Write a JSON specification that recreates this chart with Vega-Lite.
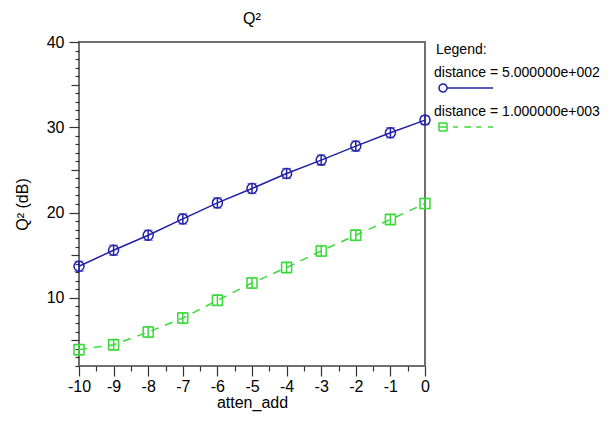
{
  "$schema": "https://vega.github.io/schema/vega-lite/v6.json",
  "autosize": "none",
  "width": 346,
  "height": 324,
  "padding": {"left": 79, "top": 42, "right": 185, "bottom": 55},
  "background": "white",
  "config": {
    "font": "Liberation Sans",
    "view": {"stroke": "#707070", "strokeWidth": 2},
    "axis": {"grid": false, "domain": false, "labelFont": "Liberation Sans", "titleFont": "Liberation Sans", "labelFontSize": 16, "titleFontSize": 16, "titleFontWeight": "normal", "labelColor": "black", "titleColor": "black", "tickColor": "#333333", "tickWidth": 1.2}
  },
  "title": {"text": "Q²", "fontSize": 16, "fontWeight": "normal", "font": "Liberation Sans", "color": "black", "offset": 7, "anchor": "middle"},
  "data": {
    "values": [
      {"atten": -10, "q": 13.7, "err": 0.6, "series": "distance = 5.000000e+002"},
      {"atten": -9, "q": 15.58, "err": 0.6, "series": "distance = 5.000000e+002"},
      {"atten": -8, "q": 17.34, "err": 0.6, "series": "distance = 5.000000e+002"},
      {"atten": -7, "q": 19.25, "err": 0.6, "series": "distance = 5.000000e+002"},
      {"atten": -6, "q": 21.13, "err": 0.6, "series": "distance = 5.000000e+002"},
      {"atten": -5, "q": 22.82, "err": 0.6, "series": "distance = 5.000000e+002"},
      {"atten": -4, "q": 24.58, "err": 0.6, "series": "distance = 5.000000e+002"},
      {"atten": -3, "q": 26.15, "err": 0.6, "series": "distance = 5.000000e+002"},
      {"atten": -2, "q": 27.79, "err": 0.6, "series": "distance = 5.000000e+002"},
      {"atten": -1, "q": 29.35, "err": 0.6, "series": "distance = 5.000000e+002"},
      {"atten": 0, "q": 30.84, "err": 0.5, "series": "distance = 5.000000e+002"},
      {"atten": -10, "q": 3.92, "err": 0.65, "series": "distance = 1.000000e+003"},
      {"atten": -9, "q": 4.5, "err": 0.65, "series": "distance = 1.000000e+003"},
      {"atten": -8, "q": 5.98, "err": 0.65, "series": "distance = 1.000000e+003"},
      {"atten": -7, "q": 7.62, "err": 0.65, "series": "distance = 1.000000e+003"},
      {"atten": -6, "q": 9.7, "err": 0.65, "series": "distance = 1.000000e+003"},
      {"atten": -5, "q": 11.74, "err": 0.65, "series": "distance = 1.000000e+003"},
      {"atten": -4, "q": 13.55, "err": 0.65, "series": "distance = 1.000000e+003"},
      {"atten": -3, "q": 15.5, "err": 0.65, "series": "distance = 1.000000e+003"},
      {"atten": -2, "q": 17.34, "err": 0.65, "series": "distance = 1.000000e+003"},
      {"atten": -1, "q": 19.18, "err": 0.65, "series": "distance = 1.000000e+003"},
      {"atten": 0, "q": 21.06, "err": 0.6, "series": "distance = 1.000000e+003"}
    ]
  },
  "encoding": {
    "x": {
      "field": "atten", "type": "quantitative", "title": "atten_add",
      "scale": {"domain": [-10, 0], "nice": false, "zero": false},
      "axis": {
        "values": [-10, -9.5, -9, -8.5, -8, -7.5, -7, -6.5, -6, -5.5, -5, -4.5, -4, -3.5, -3, -2.5, -2, -1.5, -1, -0.5, 0],
        "labelExpr": "datum.value % 1 == 0 ? '' + datum.value : ''",
        "tickSize": {"condition": {"test": "datum.value % 1 == 0", "value": 10}, "value": 5},
        "labelPadding": 2, "titlePadding": 0, "labelFlush": false, "labelOverlap": false
      }
    },
    "y": {
      "field": "q", "type": "quantitative", "title": "Q² (dB)",
      "scale": {"domain": [2, 40], "nice": false, "zero": false},
      "axis": {
        "values": [2,3,4,5,6,7,8,9,10,11,12,13,14,15,16,17,18,19,20,21,22,23,24,25,26,27,28,29,30,31,32,33,34,35,36,37,38,39,40],
        "labelExpr": "datum.value % 10 == 0 ? datum.label : ''",
        "tickSize": {"condition": [{"test": "datum.value % 10 == 0", "value": 10}, {"test": "datum.value % 5 == 0", "value": 8}], "value": 4},
        "labelPadding": 5, "titlePadding": 16, "labelFlush": false, "labelOverlap": false
      }
    }
  },
  "layer": [
    {
      "transform": [{"filter": "datum.series === 'distance = 5.000000e+002'"}],
      "mark": {"type": "line", "strokeWidth": 1.5},
      "encoding": {
        "color": {
          "field": "series", "type": "nominal",
          "scale": {"domain": ["distance = 5.000000e+002", "distance = 1.000000e+003"], "range": ["#2020a8", "#3ad93a"]},
          "legend": {
            "orient": "none", "legendX": 357, "legendY": 1, "padding": 0,
            "values": ["distance = 5.000000e+002", "distance = 1.000000e+003"],
            "title": "Legend:", "titleFontSize": 14, "titleFontWeight": "normal", "titleFont": "Liberation Sans", "titleColor": "black", "titlePadding": 24,
            "labelFontSize": 14, "labelFont": "Liberation Sans", "labelColor": "black", "labelLimit": 0,
            "symbolSize": 100, "rowPadding": 10,
            "encode": {
              "symbols": {"update": {
                "shape": {"signal": "datum.value === 'distance = 5.000000e+002' ? 'M-0.8,0A0.8,0.8,0,1,0,0.8,0A0.8,0.8,0,1,0,-0.8,0M0.8,0L10,0' : 'M-0.8,-0.8H0.8V0.8H-0.8ZM-0.8,0H0.8M2,0H3M4.26,0H5.66M6.66,0H7.66M9,0H10'"},
                "fillOpacity": {"value": 0},
                "strokeOpacity": {"value": 1},
                "strokeWidth": {"value": 1.5},
                "strokeDash": {"value": [1, 0]}
              }},
              "labels": {"update": {"dx": {"value": -20}, "dy": {"value": -15}}}
            }
          }
        }
      }
    },
    {
      "transform": [{"filter": "datum.series === 'distance = 1.000000e+003'"}],
      "mark": {"type": "line", "strokeWidth": 1.5, "strokeDash": [8, 7]},
      "encoding": {
        "color": {"field": "series", "type": "nominal", "legend": null}
      }
    },
    {
      "mark": {"type": "errorbar", "ticks": {"size": 9}, "rule": {"strokeWidth": 1.5}},
      "encoding": {
        "yError": {"field": "err"},
        "color": {"field": "series", "type": "nominal", "legend": null}
      }
    },
    {
      "transform": [{"filter": "datum.series === 'distance = 5.000000e+002'"}],
      "mark": {"type": "point", "shape": "circle", "filled": false, "size": 100, "strokeWidth": 1.5, "opacity": 1},
      "encoding": {
        "color": {"field": "series", "type": "nominal", "legend": null}
      }
    },
    {
      "transform": [{"filter": "datum.series === 'distance = 1.000000e+003'"}],
      "mark": {"type": "point", "shape": "square", "filled": false, "size": 100, "strokeWidth": 1.5, "opacity": 1},
      "encoding": {
        "color": {"field": "series", "type": "nominal", "legend": null}
      }
    }
  ]
}
